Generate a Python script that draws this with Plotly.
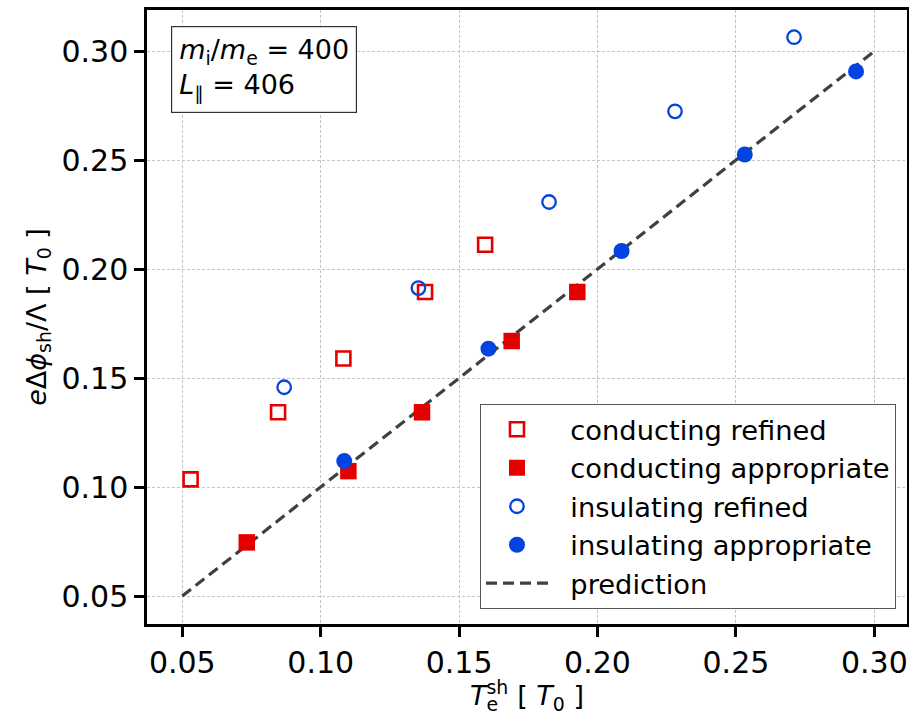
import plotly.graph_objects as go

# data
cond_ref_x = [0.053, 0.0846, 0.1082, 0.1377, 0.1594]
cond_ref_y = [0.1035, 0.1343, 0.159, 0.1895, 0.2112]
cond_app_x = [0.0733, 0.110, 0.1366, 0.169, 0.1927]
cond_app_y = [0.0746, 0.1073, 0.1343, 0.167, 0.1895]
ins_ref_x = [0.0868, 0.1353, 0.1825, 0.228, 0.271]
ins_ref_y = [0.1458, 0.1913, 0.2308, 0.2724, 0.3064]
ins_app_x = [0.1085, 0.1606, 0.2087, 0.2532, 0.2934]
ins_app_y = [0.1119, 0.1635, 0.2083, 0.2526, 0.2907]
pred_x = [0.05, 0.30]
pred_y = [0.05, 0.30]
tick_vals = [0.05, 0.10, 0.15, 0.20, 0.25, 0.30]

RED = "#e50000"
BLUE = "#0343df"
FONT = "DejaVu Sans"
PRED_LINE = dict(color="#404040", width=3.2, dash="11px,6px")
PAD = "\u00a0\u00a0"

fig = go.Figure()
fig.add_trace(go.Scatter(x=pred_x, y=pred_y, mode="lines", name="prediction",
                         line=PRED_LINE, showlegend=False))
fig.add_trace(go.Scatter(x=cond_ref_x, y=cond_ref_y, mode="markers", name=PAD + "conducting refined",
                         marker=dict(symbol="square-open", size=14, color=RED, line=dict(width=2.6, color=RED))))
fig.add_trace(go.Scatter(x=cond_app_x, y=cond_app_y, mode="markers", name=PAD + "conducting appropriate",
                         marker=dict(symbol="square", size=16.5, color=RED, line=dict(width=0))))
fig.add_trace(go.Scatter(x=ins_ref_x, y=ins_ref_y, mode="markers", name=PAD + "insulating refined",
                         marker=dict(symbol="circle-open", size=13.5, color=BLUE, line=dict(width=2.3, color=BLUE))))
fig.add_trace(go.Scatter(x=ins_app_x, y=ins_app_y, mode="markers", name=PAD + "insulating appropriate",
                         marker=dict(symbol="circle", size=16, color=BLUE, line=dict(width=0))))
# legend-only entry for the prediction line so it appears last
fig.add_trace(go.Scatter(x=[None], y=[None], mode="lines", name=PAD + "prediction", line=PRED_LINE))

axis_common = dict(
    tickvals=tick_vals, tickformat=".2f",
    showgrid=True, gridcolor="#c4c4c4", gridwidth=1, griddash="3px,2px",
    showline=True, linecolor="black", linewidth=2.5, mirror=True,
    ticks="outside", ticklen=10, tickwidth=2.5, tickcolor="black",
    tickfont=dict(family=FONT, size=30, color="black"),
    zeroline=False, automargin=False,
)

xtitle = ("<i>T</i><sup>s<span style='letter-spacing:-21.8px'>h</span></sup>"
          "<sub><span style='letter-spacing:10.5px'>e</span></sub> [ <i>T</i><sub>0</sub> ]")
fig.update_xaxes(range=[0.03725, 0.31181],
                 title=dict(text=xtitle, font=dict(family=FONT, size=27, color="black"), standoff=0),
                 **axis_common)
fig.update_yaxes(range=[0.03716, 0.31889],
                 title=dict(text="<i>e</i>Δ<i>ϕ</i><sub>sh</sub>/Λ [ <i>T</i><sub>0</sub> ]",
                            font=dict(family=FONT, size=27, color="black"), standoff=8),
                 **axis_common)

fig.add_annotation(xref="paper", yref="paper", x=0.031, y=0.974, xanchor="left", yanchor="top",
                   text="<i>m</i><sub>i</sub>/<i>m</i><sub>e</sub> = 400<br><i>L</i><sub>∥</sub> = 406",
                   showarrow=False, align="left",
                   font=dict(family=FONT, size=27, color="black"),
                   bgcolor="white", bordercolor="#333333", borderwidth=1.2, borderpad=7)

fig.update_layout(
    width=909, height=715,
    margin=dict(l=147, r=2, t=9.5, b=91),
    plot_bgcolor="white", paper_bgcolor="white",
    font=dict(family=FONT, color="black"),
    legend=dict(x=0.9855, y=0.0244, xanchor="right", yanchor="bottom",
                bgcolor="white", bordercolor="#555555", borderwidth=1,
                font=dict(family=FONT, size=27.3, color="black"),
                itemwidth=62, tracegroupgap=0),
)

fig.write_html("out.html", config={"displayModeBar": False},
               post_script="document.body.style.margin='0';document.body.style.overflow='hidden';")
